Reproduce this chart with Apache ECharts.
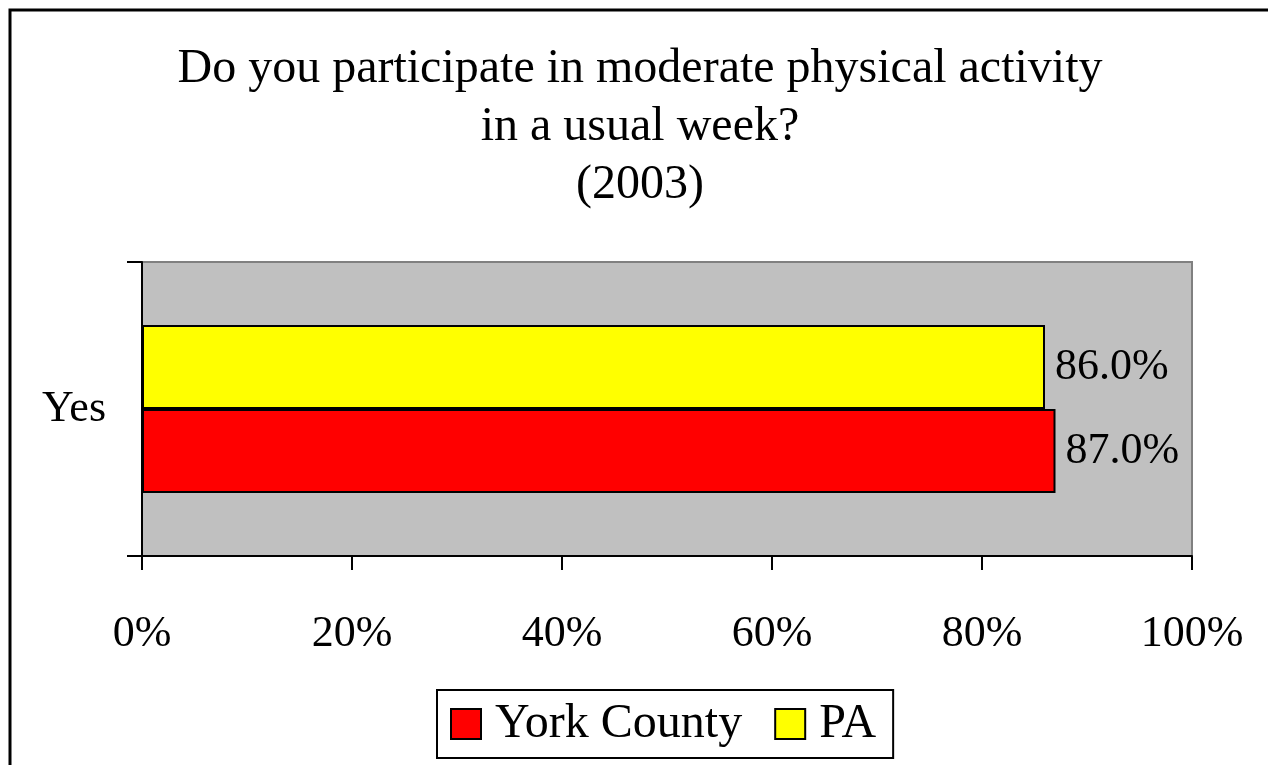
<!DOCTYPE html>
<html>
<head>
<meta charset="utf-8">
<script src="https://cdn.jsdelivr.net/npm/echarts@6/dist/echarts.min.js"></script>
<style>
html,body{margin:0;padding:0;background:#fff;}
#chart{width:1268px;height:765px;}
</style>
</head>
<body>
<div id="chart"></div>
<script>
const titleLines = ['Do you participate in moderate physical activity', 'in a usual week?', '(2003)'];
const categories = ['Yes'];
const seriesNames = ['York County', 'PA'];
const yorkValues = [87.0];
const paValues = [86.0];
const xTicks = { min: 0, max: 100, interval: 20 };

const FONT = '"Liberation Serif", "Times New Roman", serif';
const chart = echarts.init(document.getElementById('chart'), null, { renderer: 'canvas' });

const labelCfg = {
  show: true, position: 'right', distance: 10,
  color: '#000', fontFamily: FONT, fontSize: 44,
  formatter: p => p.value.toFixed(1) + '%'
};

chart.setOption({
  backgroundColor: '#fff',
  animation: false,
  title: {
    text: titleLines.join('\n'),
    left: 640, top: 40, padding: 0,
    textAlign: 'center',
    textStyle: { fontFamily: FONT, fontSize: 48, lineHeight: 58, fontWeight: 'normal', color: '#000' }
  },
  legend: {
    data: seriesNames,
    left: 437, top: 690,
    orient: 'horizontal',
    padding: [10, 17, 10, 13],
    itemWidth: 30, itemHeight: 30, itemGap: 32,
    borderColor: '#000', borderWidth: 2,
    icon: 'rect',
    textStyle: { fontFamily: FONT, fontSize: 48, color: '#000', padding: [0, 0, 0, 9] }
  },
  grid: {
    left: 142, right: 76, top: 262, bottom: 209,
    show: true, backgroundColor: '#C0C0C0', borderColor: '#808080', borderWidth: 2
  },
  xAxis: {
    type: 'value', min: xTicks.min, max: xTicks.max, interval: xTicks.interval,
    axisLine: { show: true, lineStyle: { color: '#000', width: 2 } },
    axisTick: { show: true, length: 14, lineStyle: { color: '#000', width: 2 } },
    splitLine: { show: false },
    axisLabel: { formatter: '{value}%', fontFamily: FONT, fontSize: 44, color: '#000', margin: 56 }
  },
  yAxis: {
    type: 'category', data: categories,
    axisLine: { show: true, lineStyle: { color: '#000', width: 2 } },
    axisTick: { show: true, length: 15, lineStyle: { color: '#000', width: 2 } },
    axisLabel: { fontFamily: FONT, fontSize: 44, color: '#000', margin: 36 }
  },
  series: [
    {
      name: seriesNames[1], type: 'bar', data: paValues,
      barWidth: 84, barGap: '0%',
      itemStyle: { color: '#FFFF00', borderColor: '#000', borderWidth: 2 },
      label: labelCfg
    },
    {
      name: seriesNames[0], type: 'bar', data: yorkValues,
      barWidth: 84, barGap: '0%',
      itemStyle: { color: '#FF0000', borderColor: '#000', borderWidth: 2 },
      label: labelCfg
    }
  ],
  graphic: [{
    type: 'rect', silent: true, z: 100,
    shape: { x: 10, y: 10, width: 1400, height: 1000 },
    style: { fill: 'none', stroke: '#000', lineWidth: 3 }
  }]
});
</script>
</body>
</html>
